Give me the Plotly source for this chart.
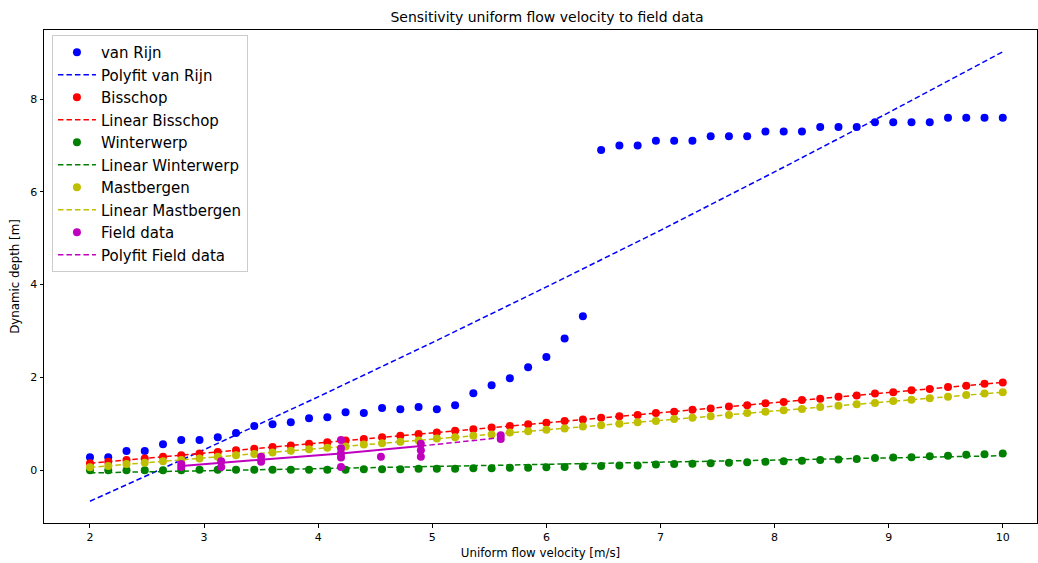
import plotly.graph_objects as go

velocity = [2.00, 2.16, 2.32, 2.48, 2.64, 2.80, 2.96, 3.12, 3.28, 3.44, 3.60, 3.76, 3.92,
            4.08, 4.24, 4.40, 4.56, 4.72, 4.88, 5.04, 5.20, 5.36, 5.52, 5.68, 5.84, 6.00,
            6.16, 6.32, 6.48, 6.64, 6.80, 6.96, 7.12, 7.28, 7.44, 7.60, 7.76, 7.92, 8.08,
            8.24, 8.40, 8.56, 8.72, 8.88, 9.04, 9.20, 9.36, 9.52, 9.68, 9.84, 10.00]

van_rijn = [0.28, 0.28, 0.41, 0.41, 0.56, 0.65, 0.65, 0.71, 0.80, 0.95, 0.99, 1.03, 1.12,
            1.14, 1.25, 1.23, 1.34, 1.31, 1.36, 1.31, 1.40, 1.66, 1.83, 1.98, 2.22, 2.44,
            2.84, 3.32, 6.90, 7.00, 7.00, 7.10, 7.10, 7.10, 7.20, 7.20, 7.20, 7.30, 7.30,
            7.30, 7.40, 7.40, 7.40, 7.50, 7.50, 7.50, 7.50, 7.60, 7.60, 7.60, 7.60]

bisschop = [0.15, 0.18, 0.22, 0.25, 0.29, 0.32, 0.36, 0.39, 0.43, 0.46, 0.50, 0.53, 0.57,
            0.60, 0.64, 0.67, 0.71, 0.74, 0.78, 0.81, 0.85, 0.88, 0.92, 0.95, 0.99, 1.02,
            1.06, 1.09, 1.13, 1.16, 1.19, 1.23, 1.26, 1.30, 1.33, 1.37, 1.40, 1.44, 1.47,
            1.51, 1.54, 1.58, 1.61, 1.65, 1.68, 1.72, 1.75, 1.79, 1.82, 1.86, 1.89]

winterwerp = [0.00, 0.00, 0.00, 0.00, 0.00, 0.00, 0.01, 0.01, 0.01, 0.01, 0.01, 0.01, 0.01,
              0.01, 0.01, 0.02, 0.02, 0.02, 0.03, 0.03, 0.03, 0.04, 0.04, 0.05, 0.05, 0.06,
              0.07, 0.08, 0.09, 0.10, 0.10, 0.12, 0.13, 0.14, 0.15, 0.16, 0.17, 0.18, 0.19,
              0.20, 0.22, 0.23, 0.24, 0.26, 0.27, 0.28, 0.30, 0.31, 0.33, 0.34, 0.36]

mastbergen = [0.06, 0.09, 0.13, 0.16, 0.19, 0.22, 0.25, 0.29, 0.32, 0.35, 0.38, 0.42, 0.45,
              0.48, 0.51, 0.55, 0.58, 0.61, 0.64, 0.68, 0.71, 0.74, 0.77, 0.81, 0.84, 0.87,
              0.90, 0.94, 0.97, 1.00, 1.03, 1.06, 1.10, 1.13, 1.16, 1.19, 1.23, 1.26, 1.29,
              1.32, 1.36, 1.39, 1.42, 1.45, 1.49, 1.52, 1.55, 1.58, 1.62, 1.65, 1.68]

# fitted curves
polyfit_vr_x = [2, 3, 4, 5, 6, 7, 8, 9, 10]
polyfit_vr_y = [-0.67, 0.44, 1.58, 2.75, 3.95, 5.17, 6.43, 7.71, 9.02]

line_x = [2, 10]
lin_bisschop = [0.15, 1.89]
lin_winterwerp = [-0.06, 0.31]
lin_mastbergen = [0.06, 1.68]

field_x = [2.8, 2.8, 3.15, 3.15, 3.5, 3.5, 4.2, 4.2, 4.2, 4.2, 4.2, 4.55,
           4.9, 4.9, 4.9, 5.6, 5.6]
field_y = [0.07, 0.13, 0.07, 0.19, 0.18, 0.29, 0.07, 0.27, 0.36, 0.47, 0.65, 0.29,
           0.29, 0.43, 0.57, 0.67, 0.75]

field_fit_solid_x = [2.8, 3.5, 4.2, 4.9]
field_fit_solid_y = [0.09, 0.22, 0.36, 0.52]
field_fit_dash_x = [4.9, 5.6]
field_fit_dash_y = [0.52, 0.70]

BLUE, RED, GREEN, YEL, MAG = "#0000ff", "#ff0000", "#008000", "#bfbf00", "#bf00bf"
MS = 8
DASH = "5.5px,3px"
LW = 1.5

fig = go.Figure()

def pts(x, y, name, color, group):
    fig.add_trace(go.Scatter(x=x, y=y, mode="markers", name=name, legendgroup=group,
                             marker=dict(color=color, size=MS, line=dict(width=0))))

def ln(x, y, name, color, group, dash=DASH, show=True, width=LW):
    fig.add_trace(go.Scatter(x=x, y=y, mode="lines", name=name, legendgroup=group,
                             showlegend=show, line=dict(color=color, width=width, dash=dash)))

pts(velocity, van_rijn, "van Rijn", BLUE, "a")
ln(polyfit_vr_x, polyfit_vr_y, "Polyfit van Rijn", BLUE, "b")
pts(velocity, bisschop, "Bisschop", RED, "c")
ln(line_x, lin_bisschop, "Linear Bisschop", RED, "d")
pts(velocity, winterwerp, "Winterwerp", GREEN, "e")
ln(line_x, lin_winterwerp, "Linear Winterwerp", GREEN, "f")
pts(velocity, mastbergen, "Mastbergen", YEL, "g")
ln(line_x, lin_mastbergen, "Linear Mastbergen", YEL, "h")
pts(field_x, field_y, "Field data", MAG, "i")
ln(field_fit_dash_x, field_fit_dash_y, "Polyfit Field data", MAG, "j")
ln(field_fit_solid_x, field_fit_solid_y, "Polyfit Field data solid", MAG, "j",
   dash="solid", show=False, width=2)

axis_common = dict(showline=True, linecolor="black", linewidth=1, mirror=True,
                   ticks="outside", ticklen=3.5, tickcolor="black", showgrid=False,
                   zeroline=False, tickfont=dict(size=11, color="black"))

fig.update_layout(
    width=1038, height=563,
    margin=dict(l=44, r=1, t=30, b=40),
    paper_bgcolor="white", plot_bgcolor="white",
    font=dict(family="DejaVu Sans", color="black"),
    title=dict(text="Sensitivity uniform flow velocity to field data", x=0.527, xanchor="center",
               y=0.970, yanchor="middle", font=dict(size=14)),
    xaxis=dict(range=[1.597, 10.30], tickvals=[2, 3, 4, 5, 6, 7, 8, 9, 10],
               title=dict(text="Uniform flow velocity [m/s]", font=dict(size=11.8), standoff=6),
               **axis_common),
    yaxis=dict(range=[-1.14, 9.49], tickvals=[0, 2, 4, 6, 8],
               title=dict(text="Dynamic depth [m]", font=dict(size=11.8), standoff=8),
               **axis_common),
    legend=dict(x=0.008, y=0.990, xanchor="left", yanchor="top",
                bgcolor="rgba(255,255,255,0.8)", bordercolor="#cccccc", borderwidth=1,
                font=dict(size=15), tracegroupgap=0, itemwidth=38),
    showlegend=True,
)

fig.write_html("out.html", config={"displayModeBar": False},
               post_script="document.body.style.margin='0px';")
